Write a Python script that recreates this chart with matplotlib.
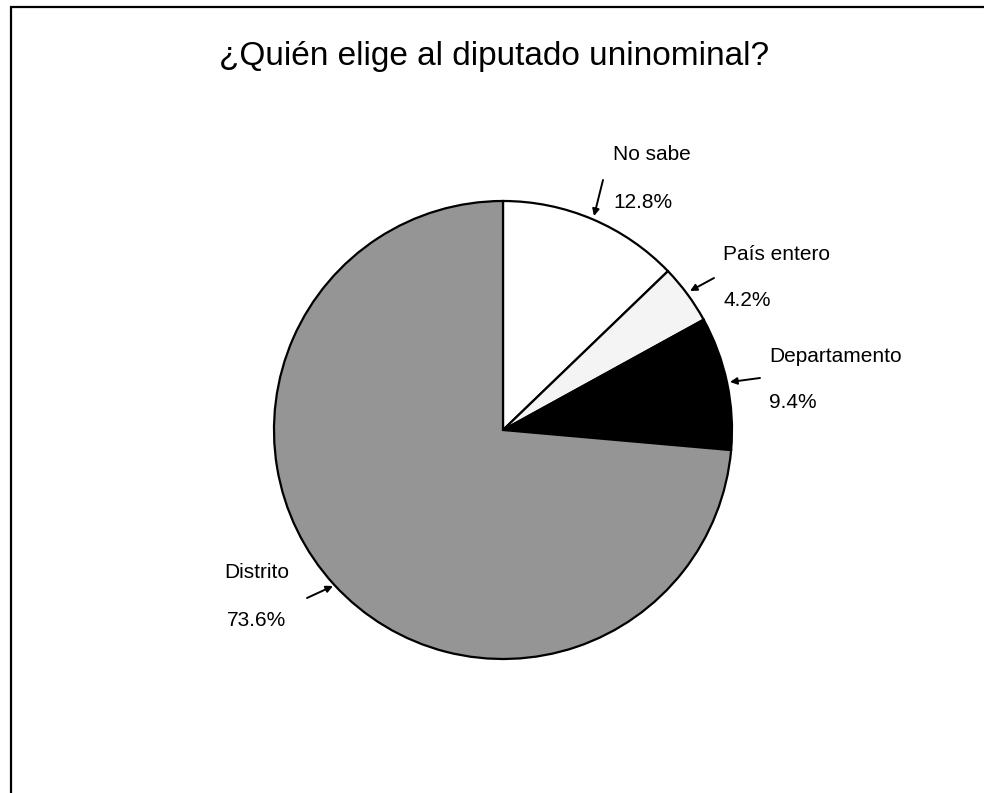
import matplotlib

matplotlib.use("Agg")
import matplotlib.pyplot as plt

plt.rcParams["font.family"] = ["Liberation Sans", "DejaVu Sans"]

TITLE = "¿Quién elige al diputado uninominal?"
labels = ["No sabe", "País entero", "Departamento", "Distrito"]
shares = [12.8, 4.2, 9.4, 73.6]
colors = ["#ffffff", "#f4f4f4", "#000000", "#959595"]

# label text anchor (pixels) and arrow start/end (pixels), y measured from top
label_pos = [(613, 155), (723, 254), (769, 356), (257, 573)]
label_align = ["left", "left", "left", "center"]
arrow_from = [(603, 180), (714, 278), (760, 378), (307, 598)]
arrow_to = [(594, 216), (690, 291), (730, 382), (333, 586)]

W, H = 984, 793
fig = plt.figure(figsize=(W / 100, H / 100), dpi=100)
ax = fig.add_axes([0, 0, 1, 1])
ax.set_xlim(0, W)
ax.set_ylim(0, H)
ax.axis("off")

ax.pie(
    shares,
    colors=colors,
    startangle=90,
    counterclock=False,
    center=(503, H - 430),
    radius=229,
    wedgeprops={"edgecolor": "black", "linewidth": 1.6},
    frame=True,
)
ax.set_xlim(0, W)
ax.set_ylim(0, H)
ax.axis("off")

ax.text(494, H - 57, TITLE, fontsize=24, ha="center", va="center")

for lab, val, (x, y), ha, a0, a1 in zip(labels, shares, label_pos, label_align,
                                        arrow_from, arrow_to):
    ax.text(x, H - y, lab, fontsize=15, ha=ha, va="center")
    ax.text(x, H - y - 47, f"{val:.1f}%", fontsize=15, ha=ha, va="center")
    ax.annotate("", xy=(a1[0], H - a1[1]), xytext=(a0[0], H - a0[1]),
                arrowprops=dict(arrowstyle="-|>", color="black", lw=1.4,
                                mutation_scale=10, shrinkA=0, shrinkB=0))

# frame: only top and left edges are visible
ax.plot([10, W], [H - 7, H - 7], color="black", lw=1.6, solid_capstyle="butt")
ax.plot([10.5, 10.5], [0, H - 6], color="black", lw=1.6, solid_capstyle="butt")

fig.savefig("out.png", dpi=100)
